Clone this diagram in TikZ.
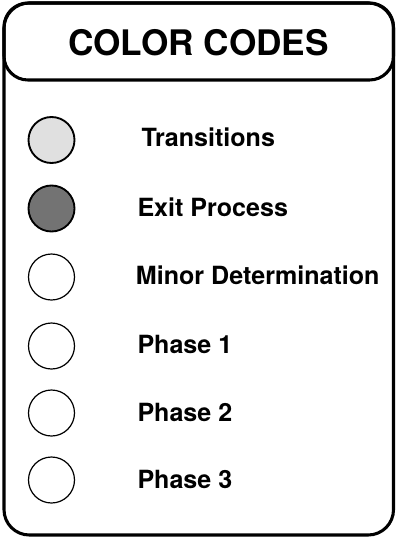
\documentclass[tikz,border=0pt]{standalone}
\usepackage{fontspec}
\setmainfont{TeX Gyre Heros}

\tikzset{every picture/.style={line width=0.75pt}}
\tikzset{
  frame/.style={line width=2.3pt, rounded corners=19pt},
  swatch/.style={circle, draw, line width=0.9pt, minimum size=34.5pt, inner sep=0pt},
  shaded/.style={swatch, line width=1.4pt},
  label/.style={anchor=base west, inner sep=0pt, font=\bfseries\fontsize{18.8}{22}\selectfont}
}

\begin{document}
\begin{tikzpicture}[x=0.75pt,y=0.75pt,yscale=-1,xscale=1]
	\useasboundingbox (0,0) rectangle (397,537);

	%Shape: Rounded Rect [id:frame] 
	\draw [frame] (4,3) rectangle (393.5,535) ;
	%Shape: Rounded Rect [id:header] 
	\draw [frame, rounded corners=18pt] (4,3) rectangle (393.5,80) ;

	% Text Node
	\node [anchor=base, inner sep=0pt, font=\bfseries\fontsize{26.4}{30}\selectfont] (title) at (198.5,55) {COLOR CODES};

	%Shape: Circle [id:transitions] 
	\node [shaded, fill=black!12] (ctrans) at (51.5,140) {};
	%Shape: Circle [id:exit] 
	\node [shaded, fill=black!55] (cexit) at (51.5,208.5) {};
	%Shape: Circle [id:minor] 
	\node [swatch] (cminor) at (51.5,277) {};
	%Shape: Circle [id:phase1] 
	\node [swatch] (cone) at (51.5,346) {};
	%Shape: Circle [id:phase2] 
	\node [swatch] (ctwo) at (51.5,413) {};
	%Shape: Circle [id:phase3] 
	\node [swatch] (cthree) at (51.5,480) {};

	% Text Node
	\node [label] (ltrans) at (141,146.5) {Transitions};
	% Text Node
	\node [label] (lexit) at (137,216.5) {Exit Process};
	% Text Node
	\node [label] (lminor) at (135.5,284) {Minor Determination};
	% Text Node
	\node [label] (lone) at (137,353) {Phase 1};
	% Text Node
	\node [label] (ltwo) at (137,421) {Phase 2};
	% Text Node
	\node [label] (lthree) at (137,488) {Phase 3};

\end{tikzpicture}
\end{document}
